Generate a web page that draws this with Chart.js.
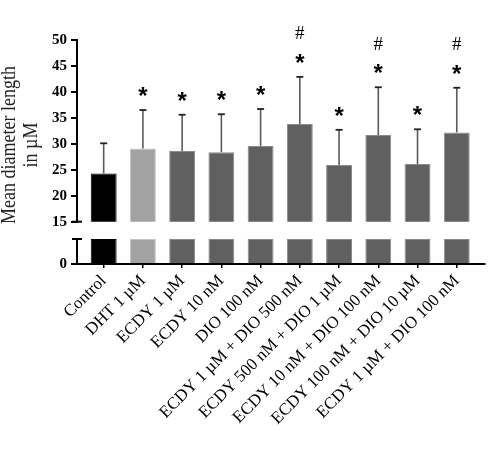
<!DOCTYPE html>
<html>
<head>
<meta charset="utf-8">
<script src="https://cdn.jsdelivr.net/npm/chart.js@4.4.1/dist/chart.umd.min.js"></script>
<style>
  html, body { margin: 0; padding: 0; background: #fff; }
  #wrap { width: 490px; height: 455px; }
</style>
</head>
<body>
<div id="wrap"><canvas id="chart"></canvas></div>
<script>
// groups along the x axis
const groups = [
  "Control",
  "DHT 1 µM",
  "ECDY 1 µM",
  "ECDY 10 nM",
  "DIO 100 nM",
  "ECDY 1 µM + DIO 500 nM",
  "ECDY 500 nM + DIO 1 µM",
  "ECDY 10 nM + DIO 100 nM",
  "ECDY 100 nM + DIO 10 µM",
  "ECDY 1 µM + DIO 100 nM"
];
// mean diameter and upper error (SD)
const meanLength = [24.3, 29.1, 28.6, 28.4, 29.6, 33.8, 25.9, 31.7, 26.1, 32.2];
const sdLength   = [5.8, 7.4, 7.0, 7.3, 7.1, 9.1, 6.8, 9.2, 6.7, 8.6];
// significance marks
const starMarks = ["", "*", "*", "*", "*", "*", "*", "*", "*", "*"];
const hashMarks = ["", "", "", "", "", "#", "", "#", "", "#"];
// y ticks of the two axis segments
const upperTicks = [15, 20, 25, 30, 35, 40, 45, 50];
const lowerTicks = [0];

const barColors = ["#000000", "#a2a2a2", "#606060", "#606060", "#606060",
                   "#606060", "#606060", "#606060", "#606060", "#606060"];
const barBorders = ["#000000", "#c4c4c4", "#8a8a8a", "#8a8a8a", "#8a8a8a",
                    "#8a8a8a", "#8a8a8a", "#8a8a8a", "#8a8a8a", "#8a8a8a"];

const serif = "'Liberation Serif', 'Times New Roman', serif";

// error bars, marks, axis breaks and the y title
const extras = {
  id: "extras",
  afterDatasetsDraw(chart) {
    const ctx = chart.ctx;
    const x = chart.scales.x;
    const y = chart.scales.y;
    const low = chart.scales.yLow;
    ctx.save();
    meanLength.forEach((m, i) => {
      const px = x.getPixelForValue(i);
      const top = y.getPixelForValue(m + sdLength[i]);
      ctx.strokeStyle = "#5a5a5a";
      ctx.lineWidth = 1.6;
      ctx.beginPath();
      ctx.moveTo(px, y.getPixelForValue(m));
      ctx.lineTo(px, top);
      ctx.stroke();
      ctx.strokeStyle = "#222";
      ctx.lineWidth = 1.8;
      ctx.beginPath();
      ctx.moveTo(px - 3.5, top);
      ctx.lineTo(px + 3.5, top);
      ctx.stroke();

      ctx.fillStyle = "#000";
      ctx.textAlign = "center";
      ctx.textBaseline = "alphabetic";
      if (starMarks[i]) {
        ctx.font = "bold 24px 'Liberation Sans', Arial, sans-serif";
        ctx.fillText(starMarks[i], px, top - 19.5 + 13.5);
      }
      if (hashMarks[i]) {
        ctx.font = "19px " + serif;
        ctx.fillText(hashMarks[i], px, top - 44 + 6.4);
      }
    });

    // break marks
    const ax = chart.chartArea.left;
    ctx.strokeStyle = "#000";
    ctx.lineWidth = 2;
    [y.bottom, low.top].forEach(py => {
      ctx.beginPath();
      ctx.moveTo(ax - 5, py);
      ctx.lineTo(ax + 5, py);
      ctx.stroke();
    });

    // y title, centred on the whole broken axis
    const cy = (y.top + low.bottom) / 2 - 7;
    const stretch = 1.15;
    ctx.translate(0, cy);
    ctx.rotate(-Math.PI / 2);
    ctx.scale(1, stretch);
    ctx.fillStyle = "#222";
    ctx.font = "18px " + serif;
    ctx.textAlign = "center";
    ctx.textBaseline = "alphabetic";
    ctx.fillText("Mean diameter length", 0, 15 / stretch);
    ctx.fillText("in µM", 0, 37 / stretch);
    ctx.restore();
  }
};

const tickFont = { family: serif, size: 15, weight: "bold" };

new Chart(document.getElementById("chart"), {
  type: "bar",
  data: {
    datasets: [
      {
        data: meanLength.map((v, i) => ({ x: i, y: v })),
        yAxisID: "y",
        backgroundColor: barColors,
        borderColor: barBorders,
        borderWidth: 1,
        grouped: false,
        barPercentage: 0.66,
        categoryPercentage: 1
      },
      {
        data: groups.map((g, i) => ({ x: i, y: 1 })),
        yAxisID: "yLow",
        backgroundColor: barColors,
        borderColor: barBorders,
        borderWidth: 1,
        grouped: false,
        barPercentage: 0.66,
        categoryPercentage: 1
      }
    ]
  },
  options: {
    responsive: true,
    maintainAspectRatio: false,
    animation: false,
    layout: { padding: { top: 40, right: 5, left: 0, bottom: 0 } },
    plugins: { legend: { display: false }, tooltip: { enabled: false } },
    scales: {
      x: {
        type: "linear",
        offset: false,
        min: -0.68,
        max: 9.72,
        afterBuildTicks: s => { s.ticks = groups.map((g, i) => ({ value: i })); },
        afterFit: s => { s.height = 191; },
        ticks: {
          autoSkip: false,
          minRotation: 45,
          maxRotation: 45,
          padding: 3,
          color: "#000",
          font: { family: serif, size: 17 },
          callback: v => groups[v]
        },
        grid: { offset: false, drawOnChartArea: false, tickLength: 4, color: "#000", lineWidth: 1.5 },
        border: { color: "#000", width: 2 }
      },
      // listed bottom-up: the last stacked axis is placed on top
      yLow: {
        stack: "v",
        stackWeight: 25,
        min: 0,
        max: 1,
        afterBuildTicks: s => { s.ticks = lowerTicks.map(v => ({ value: v })); },
        afterFit: s => { s.width = 77; },
        ticks: { color: "#000", font: tickFont, padding: 4 },
        grid: { drawOnChartArea: false, tickLength: 6, color: "#000", lineWidth: 2 },
        border: { color: "#000", width: 2 }
      },
      yGap: {
        stack: "v",
        stackWeight: 17.3,
        display: false,
        min: 0,
        max: 1
      },
      y: {
        stack: "v",
        stackWeight: 181.7,
        min: 15,
        max: 50,
        afterBuildTicks: s => { s.ticks = upperTicks.map(v => ({ value: v })); },
        afterFit: s => { s.width = 77; },
        ticks: { color: "#000", font: tickFont, padding: 4 },
        grid: { drawOnChartArea: false, tickLength: 6, color: "#000", lineWidth: 2 },
        border: { color: "#000", width: 2 }
      }
    }
  },
  plugins: [extras]
});
</script>
</body>
</html>
